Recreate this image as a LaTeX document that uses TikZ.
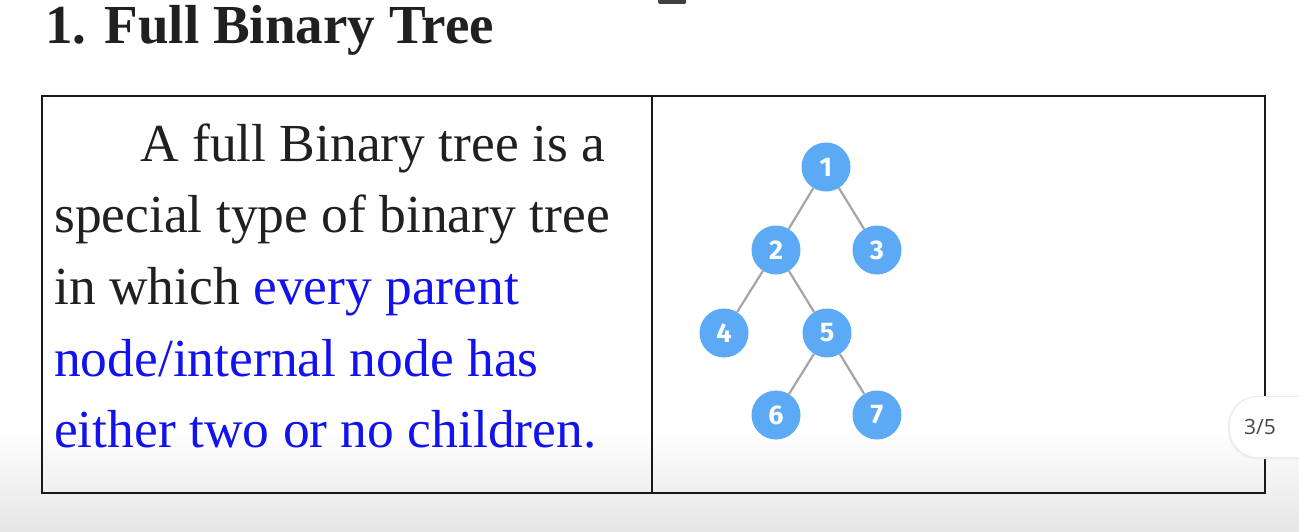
\documentclass[tikz,border=0pt]{standalone}
\usepackage{fontspec}
\setmainfont{Liberation Serif}
\newfontfamily\digitfont{Fira Sans}
\newfontfamily\opensansfont{Open Sans}
\definecolor{treeblue}{RGB}{92,170,245}
\definecolor{edgegray}{RGB}{165,165,165}
\definecolor{textblue}{RGB}{18,18,238}
\definecolor{textblack}{RGB}{32,32,32}
\definecolor{framecol}{RGB}{25,25,25}
\tikzset{
  bodyline/.style={anchor=base west, inner sep=0pt, font=\fontsize{53.5}{60}\selectfont, text=textblack},
  tnode/.style={circle, fill=treeblue, minimum size=49pt, inner sep=0pt, text=white, font=\digitfont\bfseries\fontsize{27}{27}\selectfont},
  tedge/.style={draw=edgegray, line width=2.2pt},
  frame/.style={draw=framecol, line width=2.5pt}
}
\begin{document}
\begin{tikzpicture}[x=1pt,y=-1pt]
\useasboundingbox (0,0) rectangle (1299,532);
\fill[white] (0,0) rectangle (1299,532);
\shade[top color=white, bottom color=black!10] (0,430) rectangle (1299,532);
% small dark tab at top
\fill[black!75, rounded corners=1.5pt] (658,-3) rectangle (686,4);
% title
\node[anchor=base west, inner sep=0pt, font=\fontsize{55}{60}\selectfont\bfseries, text=textblack] (title) at (45,44) {1. Full Binary Tree};
% table frame
\draw[frame] (42,96) rectangle (1265,493);
\draw[frame] (652,96) -- (652,493);
% left text
\node[bodyline] (l1) at (140,162) {A full Binary tree is a};
\node[bodyline] (l2) at (54,233) {special type of binary tree};
\node[bodyline] (l3) at (54,304.5) {in which \textcolor{textblue}{every parent}};
\node[bodyline, text=textblue] (l4) at (54,376) {node/internal node has};
\node[bodyline, text=textblue] (l5) at (54,447) {either two or no children.};
% tree
\node[tnode] (n1) at (826,167) {1};
\node[tnode] (n2) at (776,250) {2};
\node[tnode] (n3) at (877,250) {3};
\node[tnode] (n4) at (724,333) {4};
\node[tnode] (n5) at (827,333) {5};
\node[tnode] (n6) at (776,415) {6};
\node[tnode] (n7) at (877,415) {7};
\draw[tedge] (n1) -- (n2);
\draw[tedge] (n1) -- (n3);
\draw[tedge] (n2) -- (n4);
\draw[tedge] (n2) -- (n5);
\draw[tedge] (n5) -- (n6);
\draw[tedge] (n5) -- (n7);
% page indicator pill
\fill[black!7, rounded corners=29pt] (1228,396) rectangle (1340,459);
\fill[white, rounded corners=28pt] (1230,397) rectangle (1340,457);
\node[inner sep=0pt, font=\opensansfont\fontsize{21}{21}\selectfont, text=black!72] (page) at (1260,427) {3/5};
\end{tikzpicture}
\end{document}
